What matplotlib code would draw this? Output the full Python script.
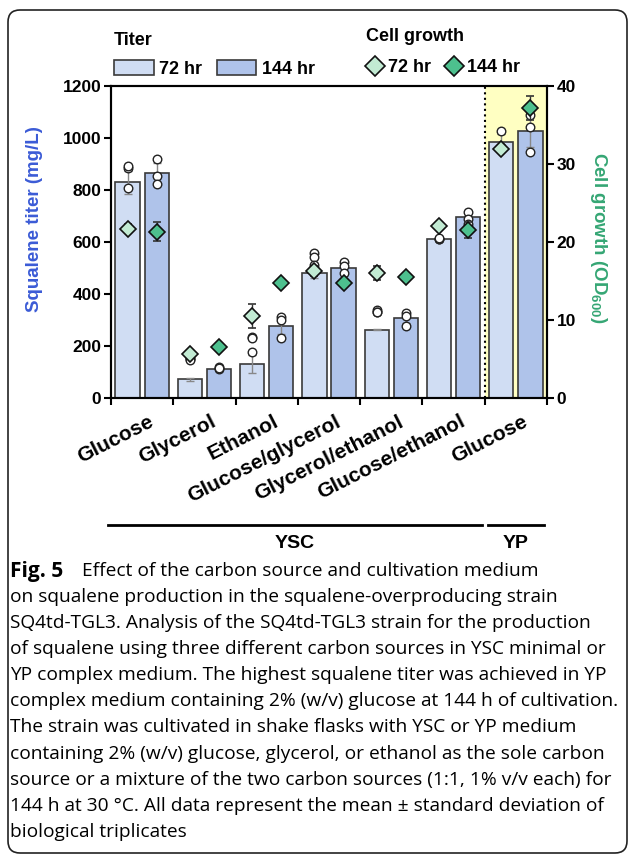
import matplotlib.pyplot as plt
import numpy as np
from matplotlib.patches import Patch, FancyBboxPatch
from matplotlib.lines import Line2D
import matplotlib.transforms as mtransforms

plt.rcParams['font.family'] = ['Liberation Sans', 'DejaVu Sans']
plt.rcParams['mathtext.fontset'] = 'custom'
plt.rcParams['mathtext.rm'] = 'Liberation Sans'
plt.rcParams['mathtext.bf'] = 'Liberation Sans:bold'

# data
sources = ['Glucose', 'Glycerol', 'Ethanol', 'Glucose/glycerol',
           'Glycerol/ethanol', 'Glucose/ethanol', 'Glucose']
titer_72 = [830, 72, 132, 480, 263, 613, 986]
titer_72_sd = [45, 6, 35, 20, 3, 3, 30]
titer_144 = [864, 113, 277, 501, 308, 696, 1026]
titer_144_sd = [40, 5, 30, 15, 20, 15, 60]
reps_72 = [[886, 893, 809], [154, 150, 148], [236, 230, 178], [557, 543, 511],
           [338, 332, 330], [613, 612, 614], [1028, 960, 965]]
reps_144 = [[918, 855, 823], [120, 112, 116], [310, 300, 232], [524, 509, 480],
            [326, 315, 277], [714, 690, 668], [1088, 1043, 947]]
od_72 = [21.7, 5.6, 10.5, 16.3, 16.0, 22.1, 31.9]
od_72_sd = [0.6, 0.3, 1.5, 0.6, 0.9, 0.2, 0.3]
od_144 = [21.3, 6.6, 14.7, 14.8, 15.5, 21.5, 37.2]
od_144_sd = [1.2, 0.2, 0.4, 0.4, 0.3, 1.0, 1.5]

caption = [
    'on squalene production in the squalene-overproducing strain',
    'SQ4td-TGL3. Analysis of the SQ4td-TGL3 strain for the production',
    'of squalene using three different carbon sources in YSC minimal or',
    'YP complex medium. The highest squalene titer was achieved in YP',
    'complex medium containing 2% (w/v) glucose at 144 h of cultivation.',
    'The strain was cultivated in shake flasks with YSC or YP medium',
    'containing 2% (w/v) glucose, glycerol, or ethanol as the sole carbon',
    'source or a mixture of the two carbon sources (1:1, 1% v/v each) for',
    '144 h at 30 \u00b0C. All data represent the mean \u00b1 standard deviation of',
    'biological triplicates',
]

c_72 = '#D0DDF3'
c_144 = '#AFC3EA'
d_72 = '#C2EBD3'
d_144 = '#4DC08E'
edge = '#3a3a3a'

W, H = 629, 856
fig = plt.figure(figsize=(W / 100, H / 100), dpi=100)
ax = fig.add_axes([111 / W, 1 - 398 / H, (547 - 111) / W, (398 - 86) / H])
ax2 = ax.twinx()

x = np.arange(len(sources)) + 0.5
off = 0.235
bw = 0.39

ax.axvspan(6, 7, color='#FFFFC2', zorder=0, lw=0)
ax.axvline(6, color='k', ls=':', lw=1.5, zorder=1)

ax.bar(x - off, titer_72, bw, color=c_72, edgecolor=edge, lw=1.2, zorder=2)
ax.bar(x + off, titer_144, bw, color=c_144, edgecolor=edge, lw=1.2, zorder=2)
ax.errorbar(x - off, titer_72, yerr=titer_72_sd, fmt='none', ecolor='#888888',
            elinewidth=1, capsize=3, zorder=3)
ax.errorbar(x + off, titer_144, yerr=titer_144_sd, fmt='none', ecolor='#888888',
            elinewidth=1, capsize=3, zorder=3)
for i in range(len(sources)):
    ax.scatter([x[i] - off] * 3, reps_72[i], s=38, facecolor='white',
               edgecolor='#222222', lw=1, zorder=4)
    ax.scatter([x[i] + off] * 3, reps_144[i], s=38, facecolor='white',
               edgecolor='#222222', lw=1, zorder=4)

ax2.errorbar(x - off, od_72, yerr=od_72_sd, fmt='D', ms=8.5, mfc=d_72, mec='#111111',
             mew=1.2, ecolor='#333333', elinewidth=1, capsize=3)
ax2.errorbar(x + off, od_144, yerr=od_144_sd, fmt='D', ms=8.5, mfc=d_144, mec='#111111',
             mew=1.2, ecolor='#333333', elinewidth=1, capsize=3)

ax.set_xlim(0, 7)
ax.set_ylim(0, 1200)
ax2.set_ylim(0, 40)
ax.set_xticks(np.arange(8))
ax.set_xticklabels([])
ax.set_yticks(np.arange(0, 1201, 200))
ax2.set_yticks(np.arange(0, 41, 10))
for a in (ax, ax2):
    for s in a.spines.values():
        s.set_linewidth(1.5)
    a.tick_params(width=1.5, length=5, labelsize=12.5, pad=2)
    for lab in a.get_yticklabels():
        lab.set_fontweight('bold')

ax.set_ylabel('Squalene titer (mg/L)', color='#3B5BD6', fontsize=13.5,
              fontweight='bold')
ax.yaxis.set_label_coords(-0.156, 0.574)
ax2.set_ylabel(r'Cell growth (OD$_\mathbf{600}$)', color='#35A674', fontsize=13.5,
               fontweight='bold', rotation=270, va='center')
ax2.yaxis.set_label_coords(1.117, 0.514)

# rotated category labels
trans = mtransforms.blended_transform_factory(ax.transData, ax.transAxes)
for i, name in enumerate(sources):
    ax.text(x[i] + 0.1, -0.045, name, transform=trans, rotation=27,
            rotation_mode='anchor', ha='right', va='top', fontsize=15,
            fontweight='bold')

# medium brackets
ax.plot([-0.05, 5.95], [-0.407, -0.407], transform=trans, color='k', lw=2,
        clip_on=False)
ax.plot([6.05, 6.95], [-0.407, -0.407], transform=trans, color='k', lw=2,
        clip_on=False)
ax.text(2.95, -0.465, 'YSC', transform=trans, ha='center', va='center',
        fontsize=14, fontweight='bold')
ax.text(6.5, -0.465, 'YP', transform=trans, ha='center', va='center',
        fontsize=14, fontweight='bold')

# legends
h1 = [Patch(facecolor=c_72, edgecolor=edge, lw=1.2),
      Patch(facecolor=c_144, edgecolor=edge, lw=1.2)]
leg1 = fig.legend(h1, ['72 hr', '144 hr'], ncol=2, loc='upper left',
                  bbox_to_anchor=(105 / W, 1 - 23 / H), frameon=False,
                  title='Titer', handlelength=2.2, handleheight=0.95,
                  handletextpad=0.3, columnspacing=0.8, borderpad=0,
                  labelspacing=0.6,
                  prop={'weight': 'bold', 'size': 13},
                  title_fontproperties={'weight': 'bold', 'size': 13})
leg1._legend_box.align = 'left'
h2 = [Line2D([], [], marker='D', ls='none', ms=10, mfc=d_72, mec='#111111', mew=1.2),
      Line2D([], [], marker='D', ls='none', ms=10, mfc=d_144, mec='#111111', mew=1.2)]
leg2 = fig.legend(h2, ['72 hr', '144 hr'], ncol=2, loc='upper left',
                  bbox_to_anchor=(357 / W, 1 - 19 / H), frameon=False,
                  title='Cell growth', handlelength=1.0,
                  handletextpad=0.2, columnspacing=0.8, borderpad=0,
                  labelspacing=0.8,
                  prop={'weight': 'bold', 'size': 13},
                  title_fontproperties={'weight': 'bold', 'size': 13})
leg2._legend_box.align = 'left'

# caption
cap_font = ['Open Sans', 'DejaVu Sans']
fig.text(10 / W, 1 - 571 / H, 'Fig. 5', fontsize=15, fontweight='bold',
         family=cap_font, va='center')
fig.text(82 / W, 1 - 571 / H, 'Effect of the carbon source and cultivation medium',
         fontsize=13.8, family=cap_font, va='center')
for k, line in enumerate(caption):
    fig.text(10 / W, 1 - (597 + 26.1 * k) / H, line, fontsize=13.8,
             family=cap_font, va='center')

# rounded frame
frame = FancyBboxPatch((8, 3), 619, 843, boxstyle='round,pad=0,rounding_size=12',
                       transform=None, facecolor='none', edgecolor='#222222', lw=1.2)
fig.patches.append(frame)

fig.savefig('out.png', dpi=100)
